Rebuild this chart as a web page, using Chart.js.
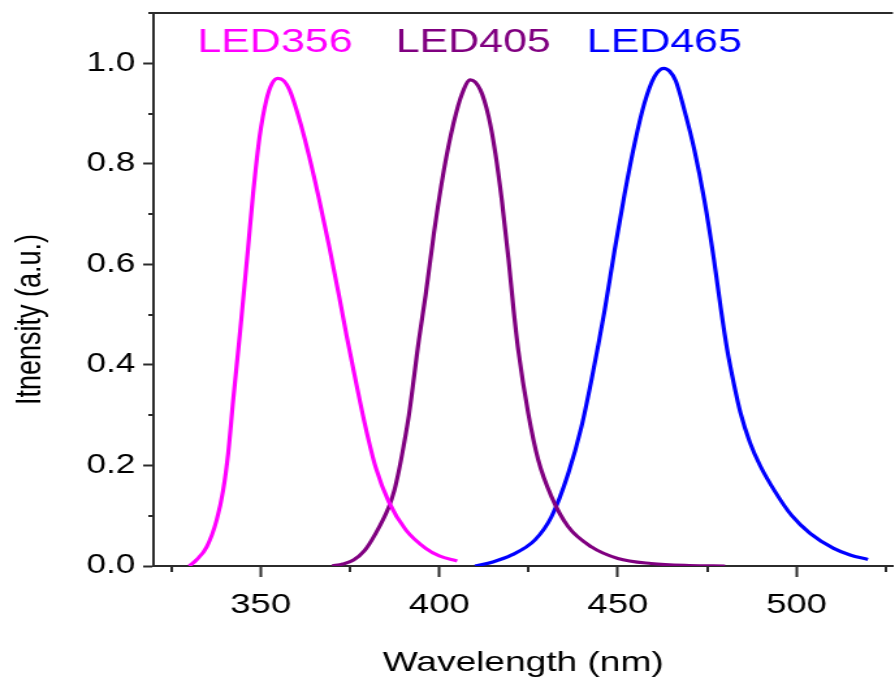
<!DOCTYPE html>
<html>
<head>
<meta charset="utf-8">
<script src="https://cdn.jsdelivr.net/npm/chart.js@4.4.1/dist/chart.umd.min.js"></script>
<style>
  html, body { margin: 0; padding: 0; background: #fff; overflow: hidden; }
  /* the source picture is stretched sideways, so the chart is drawn narrow and widened */
  #wrap { width: 688px; height: 680px; transform: scaleX(1.3009); transform-origin: 0 0; }
</style>
</head>
<body>
<div id="wrap"><canvas id="ledChart"></canvas></div>
<script>
// LED356
const wl356 = [330, 332, 334.9, 337.7, 339.5, 340.9, 342.3, 344.2, 346.5, 347.9, 349.7, 351.6, 353.2, 354.8, 356.5, 358.1, 360.9, 363.6, 366.4, 369.2, 372, 374, 376.7, 379.4, 382.2, 385.9, 390.6, 396.2, 400, 405];
const in356 = [0, 0.012, 0.038, 0.092, 0.151, 0.224, 0.33, 0.463, 0.635, 0.742, 0.854, 0.927, 0.96, 0.97, 0.965, 0.947, 0.887, 0.814, 0.728, 0.635, 0.535, 0.46, 0.365, 0.275, 0.196, 0.127, 0.072, 0.035, 0.02, 0.01];

// LED405
const wl405 = [370, 373, 376, 379, 382.2, 385.9, 387.4, 388.7, 390, 391.5, 394.3, 396.2, 398.5, 401.3, 404, 406.4, 408.7, 411.5, 413.8, 415.7, 417.5, 419.4, 420.8, 422.1, 424.9, 427.7, 431.4, 436.1, 442.6, 450, 459.3, 470, 480];
const in405 = [0, 0.004, 0.012, 0.03, 0.065, 0.118, 0.15, 0.19, 0.238, 0.3, 0.45, 0.54, 0.662, 0.788, 0.881, 0.94, 0.967, 0.947, 0.894, 0.821, 0.728, 0.609, 0.51, 0.43, 0.304, 0.211, 0.138, 0.078, 0.038, 0.015, 0.005, 0.001, 0];

// LED465
const wl465 = [410, 415, 420.3, 426.8, 431.4, 436.1, 439.8, 442.6, 446.3, 449.1, 451.9, 454.7, 457.4, 460.2, 462.8, 464.5, 466.2, 468.6, 471.4, 474.2, 476.9, 478.8, 480.6, 482.6, 484.3, 487, 489.8, 494, 498.7, 503.8, 510.4, 515, 520];
const in465 = [0, 0.008, 0.022, 0.052, 0.098, 0.184, 0.277, 0.37, 0.509, 0.629, 0.741, 0.841, 0.92, 0.973, 0.99, 0.984, 0.965, 0.907, 0.828, 0.728, 0.609, 0.513, 0.43, 0.358, 0.305, 0.245, 0.2, 0.148, 0.1, 0.065, 0.035, 0.022, 0.013];

const ledNames = ["LED356", "LED405", "LED465"];
const ledColors = ["#ff00ff", "#800080", "#0000ff"];
const labelX = [354, 409.5, 463];
const labelY = 1.04;

const xMinor = [325, 375, 425, 475, 525];
const yMinor = [0.1, 0.3, 0.5, 0.7, 0.9, 1.1];

const axisColor = "#2b2b2b";
const fontFamily = "'Liberation Sans', Arial, sans-serif";
Chart.defaults.font.family = fontFamily;

function toPoints(xs, ys) {
  return xs.map((x, i) => ({ x: x, y: ys[i] }));
}

const extras = {
  id: "extras",
  afterDraw(chart) {
    const { ctx, chartArea, scales } = chart;
    const x = scales.x;
    const y = scales.y;
    ctx.save();
    ctx.strokeStyle = axisColor;
    ctx.lineWidth = 2;
    ctx.beginPath();
    // top border, no right border (picture is cut there)
    ctx.moveTo(chartArea.left - 1, chartArea.top);
    ctx.lineTo(chartArea.right, chartArea.top);
    // minor ticks
    xMinor.forEach((v) => {
      const px = Math.round(x.getPixelForValue(v));
      ctx.moveTo(px, chartArea.bottom);
      ctx.lineTo(px, chartArea.bottom + 6);
    });
    yMinor.forEach((v) => {
      const py = Math.round(y.getPixelForValue(v));
      ctx.moveTo(chartArea.left, py);
      ctx.lineTo(chartArea.left - 4, py);
    });
    ctx.stroke();

    // curve labels
    ctx.font = "33px " + fontFamily;
    ctx.textAlign = "center";
    ctx.textBaseline = "middle";
    ledNames.forEach((name, i) => {
      ctx.fillStyle = ledColors[i];
      ctx.fillText(name, x.getPixelForValue(labelX[i]), y.getPixelForValue(labelY));
    });

    // y axis title, sits a bit below the middle in the source
    ctx.fillStyle = "#000";
    ctx.font = "27px " + fontFamily;
    ctx.translate(24, (chartArea.top + chartArea.bottom) / 2 + 30);
    ctx.rotate(-Math.PI / 2);
    ctx.fillText("Itnensity (a.u.)", 0, 0);
    ctx.restore();
  },
};

const ctx = document.getElementById("ledChart");

new Chart(ctx, {
  type: "line",
  data: {
    datasets: [
      { label: ledNames[0], data: toPoints(wl356, in356), borderColor: ledColors[0] },
      { label: ledNames[1], data: toPoints(wl405, in405), borderColor: ledColors[1] },
      { label: ledNames[2], data: toPoints(wl465, in465), borderColor: ledColors[2] },
    ],
  },
  options: {
    responsive: true,
    maintainAspectRatio: false,
    animation: false,
    layout: { padding: { top: 13, right: 0, bottom: 0, left: 0 } },
    elements: {
      point: { radius: 0 },
      line: { borderWidth: 3.2, cubicInterpolationMode: "monotone", fill: false },
    },
    plugins: {
      legend: { display: false },
      tooltip: { enabled: false },
    },
    scales: {
      x: {
        type: "linear",
        min: 320,
        max: 527,
        afterFit(scale) {
          scale.height = 114;
          scale.paddingLeft = 0;
          scale.paddingRight = 0;
        },
        border: { color: axisColor, width: 2 },
        grid: { drawOnChartArea: false, tickLength: 11, tickWidth: 2, tickColor: axisColor },
        ticks: {
          stepSize: 50,
          includeBounds: false,
          maxRotation: 0,
          autoSkip: false,
          padding: 11,
          color: "#000",
          font: { size: 28 },
        },
        title: {
          display: true,
          text: "Wavelength (nm)",
          color: "#000",
          font: { size: 28.5 },
          padding: { top: 0, bottom: 0 },
        },
      },
      y: {
        min: 0,
        max: 1.1,
        afterFit(scale) {
          scale.width = 118;
          scale.paddingTop = 0;
          scale.paddingBottom = 0;
        },
        border: { color: axisColor, width: 2 },
        grid: { drawOnChartArea: false, tickLength: 8, tickWidth: 2, tickColor: axisColor },
        ticks: {
          stepSize: 0.2,
          includeBounds: false,
          padding: 6,
          color: "#000",
          font: { size: 27 },
          callback: (v) => v.toFixed(1),
        },
      },
    },
  },
  plugins: [extras],
});
</script>
</body>
</html>
